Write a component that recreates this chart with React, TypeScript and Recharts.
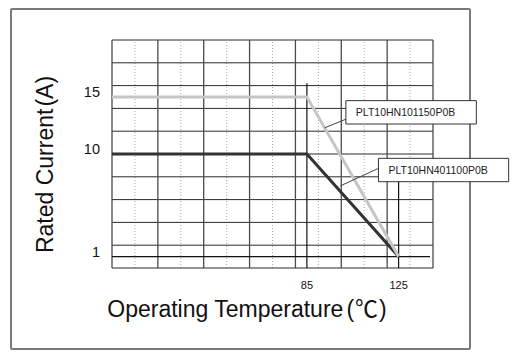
import React from 'react';
import { ComposedChart, Line, XAxis, YAxis, ReferenceLine, ReferenceArea, Label } from 'recharts';

// ---- data ----
const temps = [0, 85, 125];
const currentHN101150 = [15, 15, 1];
const currentHN401100 = [10, 10, 1];
const seriesNames = ['PLT10HN101150P0B', 'PLT10HN401100P0B'];
const xTickLabels = [85, 125];
const yTickLabels = [1, 10, 15];
const gridMajorX = [0, 20, 40, 60, 80, 100, 120, 140];
const gridMinorX = [10, 30, 50, 70, 90, 110, 130];
const gridY = [0, 2, 4, 6, 8, 10, 12, 14, 16, 18, 20];
// marker lines: [x, top y]
const markerX = [85, 125];
const markerTop = [16.2, 7.6];
// callouts: leader start (on series) -> box
const leaderFrom = [[92.8, 12.3], [99.6, 7.2]];
const leaderTo = [[102.2, 13.07], [116.3, 8.75]];
const boxX = [[102, 158.9], [116.2, 173]];
const boxY = [[12.63, 14.68], [7.57, 9.62]];

const data = temps.map((t, i) => ({ t, a: currentHN101150[i], b: currentHN401100[i] }));

const FONT = '"Liberation Sans", Arial, sans-serif';
const CJK = '"Noto Sans CJK JP", "Liberation Sans", sans-serif';

const XTick = (props: any) => {
  const { x, y, payload } = props;
  return (
    <text x={x} y={y + 21} textAnchor="middle" fontSize={11} fontFamily={FONT} fill="#111">
      {payload.value}
    </text>
  );
};

const YTick = (props: any) => {
  const { x, y, payload } = props;
  return (
    <text x={x} y={y} textAnchor="end" fontSize={14.5} fontFamily={FONT} fill="#111">
      {payload.value}
    </text>
  );
};

const XTitle = (props: any) => {
  const vb = props.viewBox || {};
  return (
    <text x={vb.x + vb.width / 2 - 25.5} y={vb.y + 49} textAnchor="middle" fontSize={23} fontFamily={FONT} fill="#111">
      <tspan>Operating Temperature</tspan>
      <tspan dx={3}>(</tspan>
      <tspan fontFamily={CJK} dx={1}>℃</tspan>
      <tspan dx={1}>)</tspan>
    </text>
  );
};

const YTitle = (props: any) => {
  const vb = props.viewBox || {};
  const cx = 53;
  const cy = vb.y + vb.height / 2 + 10.5;
  return (
    <text x={cx} y={cy} transform={`rotate(-90 ${cx} ${cy})`} textAnchor="middle" fontSize={23} fontFamily={FONT} fill="#111">
      <tspan>Rated Current</tspan>
      <tspan dx={2}>(</tspan>
      <tspan>A</tspan>
      <tspan>)</tspan>
    </text>
  );
};

export default function App() {
  return (
    <div style={{ position: 'absolute', left: 0, top: 0, width: 516, height: 361, background: '#fff' }}>
      <div
        style={{
          position: 'absolute',
          left: 10,
          top: 8,
          width: 457,
          height: 338,
          border: '2px solid #7a7a7a',
          borderRadius: 2,
        }}
      />
      <div style={{ position: 'absolute', left: 0, top: 0 }}>
        <ComposedChart width={516} height={361} data={data} margin={{ top: 40, right: 83, bottom: 0, left: 0 }}>
          <XAxis
            type="number"
            dataKey="t"
            domain={[0, 140]}
            ticks={xTickLabels}
            axisLine={false}
            tickLine={false}
            tickSize={0}
            tickMargin={0}
            height={93}
            tick={<XTick />}
            interval={0}
            allowDataOverflow
          >
            <Label content={<XTitle />} />
          </XAxis>
          <YAxis
            type="number"
            domain={[0, 20]}
            ticks={yTickLabels}
            axisLine={false}
            tickLine={false}
            tickSize={0}
            tickMargin={12}
            width={112}
            tick={<YTick />}
            interval={0}
            allowDataOverflow
          >
            <Label content={<YTitle />} />
          </YAxis>

          {gridMinorX.map((v) => (
            <ReferenceLine key={'mx' + v} x={v} stroke="#aaaaaa" strokeWidth={1} strokeDasharray="1 2" />
          ))}
          {gridY.map((v) => (
            <ReferenceLine key={'gy' + v} y={v} stroke="#2a2a2a" strokeWidth={1} />
          ))}
          {gridMajorX.map((v) => (
            <ReferenceLine key={'gx' + v} x={v} stroke="#4a4a4a" strokeWidth={1.3} />
          ))}
          <ReferenceLine
            segment={[{ x: 0, y: 1 }, { x: 138.7, y: 1 }]}
            stroke="#111"
            strokeWidth={1.2}
            ifOverflow="visible"
          />
          {markerX.map((v, i) => (
            <ReferenceLine
              key={'mk' + v}
              segment={[{ x: v, y: markerTop[i] }, { x: v, y: 0 }]}
              stroke="#111"
              strokeWidth={1.2}
              ifOverflow="visible"
            />
          ))}

          <Line
            type="linear"
            dataKey="b"
            stroke="#333333"
            strokeWidth={3}
            dot={false}
            isAnimationActive={false}
          />
          <Line
            type="linear"
            dataKey="a"
            stroke="#c6c6c6"
            strokeWidth={3}
            dot={false}
            isAnimationActive={false}
          />

          {seriesNames.map((name, i) => (
            <ReferenceLine
              key={'ld' + i}
              segment={[
                { x: leaderFrom[i][0], y: leaderFrom[i][1] },
                { x: leaderTo[i][0], y: leaderTo[i][1] },
              ]}
              stroke="#444"
              strokeWidth={1}
              ifOverflow="visible"
              zIndex={900}
            />
          ))}
          {seriesNames.map((name, i) => (
            <ReferenceArea
              key={'bx' + i}
              x1={boxX[i][0]}
              x2={boxX[i][1]}
              y1={boxY[i][0]}
              y2={boxY[i][1]}
              fill="#ffffff"
              fillOpacity={1}
              stroke="#333"
              strokeWidth={1}
              ifOverflow="visible"
              zIndex={1000}
              label={{ value: name, position: 'insideLeft', offset: 10, fontSize: 10.5, fontFamily: FONT, fill: '#222' }}
            />
          ))}
        </ComposedChart>
      </div>
    </div>
  );
}
